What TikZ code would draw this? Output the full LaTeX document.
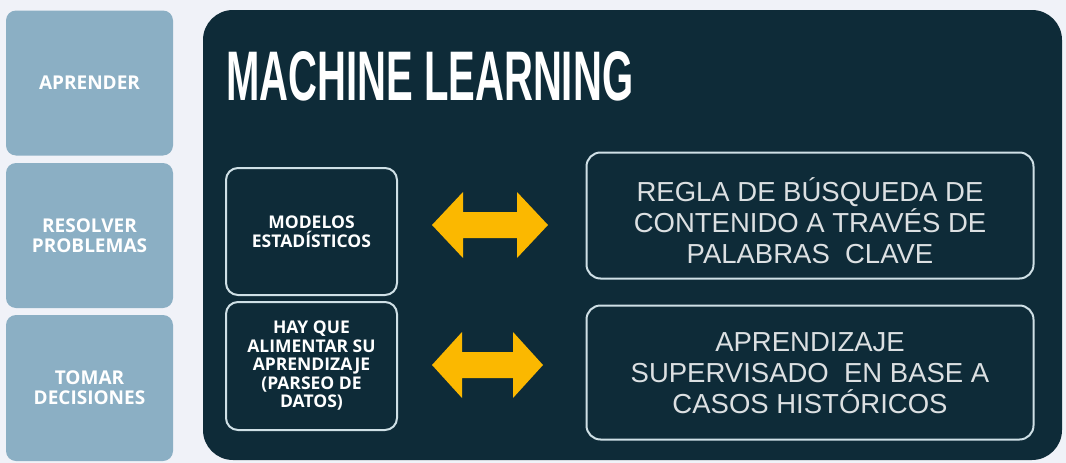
\documentclass[tikz,border=0pt]{standalone}
\usepackage{fontspec}
\usepackage{graphicx}
\setmainfont{Liberation Sans}
\newfontfamily\osans{Open Sans}
\definecolor{bgc}{HTML}{F0F2F8}
\definecolor{sidec}{HTML}{8BAFC4}
\definecolor{darkc}{HTML}{0E2B38}
\definecolor{outc}{HTML}{CFE0E6}
\definecolor{arrc}{HTML}{FBB800}
\definecolor{txtc}{HTML}{DCE0E2}
\begin{document}
\begin{tikzpicture}[x=1pt,y=-1pt,
  sidebox/.style={fill=sidec, rounded corners=10pt, minimum width=167pt, inner sep=0pt,
    text=white, align=center, font=\osans\bfseries\fontsize{19}{20}\selectfont},
  mainbox/.style={fill=darkc, rounded corners=30pt, minimum width=859pt, minimum height=450pt, inner sep=0pt},
  smallbox/.style={draw=outc, line width=2pt, rounded corners=12pt, minimum width=171pt, inner sep=0pt,
    text=white, align=center, font=\osans\bfseries\fontsize{17.5}{19.5}\selectfont},
  bigbox/.style={draw=outc, line width=2pt, rounded corners=14pt, minimum width=447pt, inner sep=0pt},
  bigtext/.style={text=txtc, align=center, inner sep=0pt, font=\fontsize{27.5}{31}\selectfont},
  dblarrow/.style={fill=arrc}
]
\useasboundingbox (0,0) rectangle (1066,463);
\fill[bgc] (0,0) rectangle (1066,463);

% left column
\node[sidebox, minimum height=145pt] (s1) at (89.5,83) {APRENDER};
\node[sidebox, minimum height=145pt] (s2) at (89.5,235.5) {RESOLVER\\PROBLEMAS};
\node[sidebox, minimum height=146pt] (s3) at (89.5,388) {TOMAR\\DECISIONES};

% main panel
\node[mainbox] (ml) at (632.5,235) {};
\node[anchor=north west, inner sep=0pt, text=white] (title) at (226,51)
  {\resizebox{407pt}{49pt}{\bfseries MACHINE LEARNING}};

% inner left boxes
\node[smallbox, minimum height=127pt] (a) at (311.5,231.5) {MODELOS\\ESTAD\'ISTICOS};
\node[smallbox, minimum height=128pt, font=\osans\bfseries\fontsize{17.5}{18.5}\selectfont] (b) at (311.5,366)
  {HAY QUE\\ALIMENTAR SU\\APRENDIZAJE\\(PARSEO DE\\DATOS)};

% inner right boxes
\node[bigbox, minimum height=126pt] (c) at (810,215.5) {};
\node[bigtext] (ct) at (810,221) {REGLA DE B\'USQUEDA DE\\CONTENIDO A TRAV\'ES DE\\PALABRAS\ \ CLAVE};
\node[bigbox, minimum height=134pt] (d) at (810,372.5) {};
\node[bigtext] (dt) at (810,373) {APRENDIZAJE\\SUPERVISADO\ \ EN BASE A\\CASOS HIST\'ORICOS};

% double arrows
\fill[dblarrow] (432,225) -- (463,192) -- (463,212) -- (517,212) -- (517,192) -- (548,225)
  -- (517,258) -- (517,238) -- (463,238) -- (463,258) -- cycle;
\fill[dblarrow] (432,365) -- (462,332) -- (462,352) -- (513,352) -- (513,332) -- (543,365)
  -- (513,398) -- (513,378) -- (462,378) -- (462,398) -- cycle;
\end{tikzpicture}
\end{document}
